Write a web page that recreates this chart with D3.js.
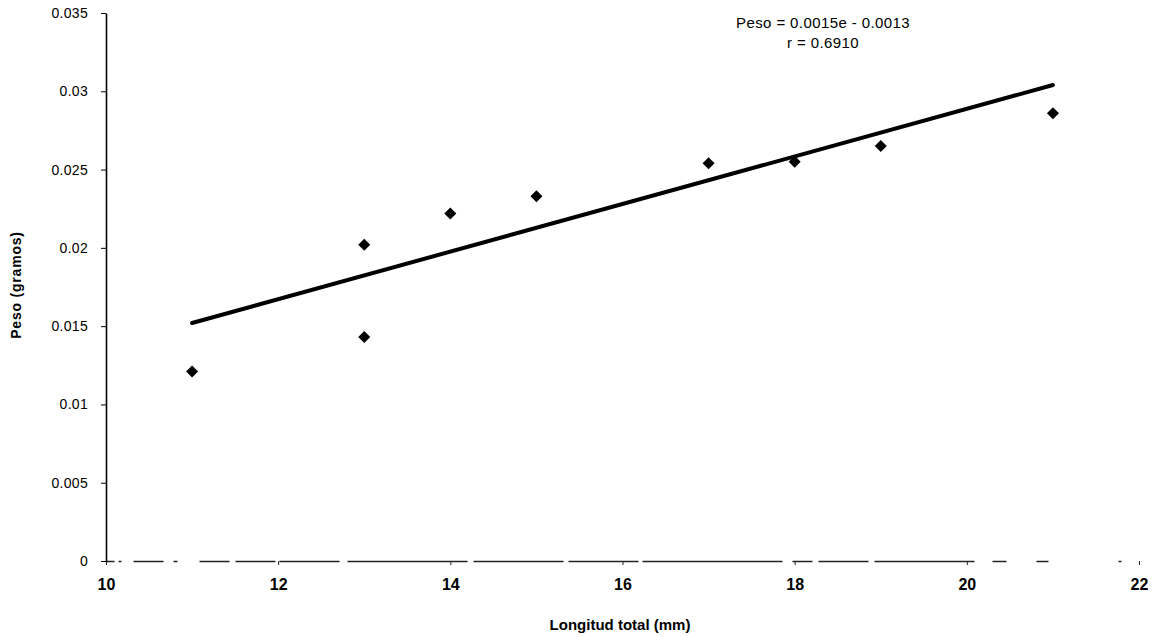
<!DOCTYPE html>
<html>
<head>
<meta charset="utf-8">
<script src="https://cdn.jsdelivr.net/npm/d3@7"></script>
<style>
  body { margin: 0; background: #fff; }
  svg { display: block; font-family: "Liberation Sans", Arial, sans-serif; }
</style>
</head>
<body>
<div id="chart"></div>
<script>
// longitud total (mm) vs peso (gramos)
const longitud = [11, 13, 13, 14, 15, 17, 18, 19, 21]
const peso = [0.0121, 0.0202, 0.0143, 0.0222, 0.0233, 0.0254, 0.0255, 0.0265, 0.0286]

// trend line ends
const trendX = [11, 21]
const trendY = [0.0152, 0.0304]

const xTicks = [10, 12, 14, 16, 18, 20, 22]
const yTicks = [0, 0.005, 0.01, 0.015, 0.02, 0.025, 0.03, 0.035]

const eqLines = ['Peso = 0.0015e - 0.0013', 'r = 0.6910']

function draw_chart() {
    const width = 1154, height = 637

    const svg = d3.select('#chart').append('svg')
        .attr('width', width)
        .attr('height', height)

    const x = d3.scaleLinear().domain([10, 22]).range([106, 1139])
    const y = d3.scaleLinear().domain([0, 0.035]).range([561, 13])

    // x axis (the scanned baseline is broken up, so dash it)
    const xAxis = svg.append('g')
        .attr('transform', `translate(0,${y(0)})`)
        .call(d3.axisBottom(x).tickValues(xTicks).tickSize(4).tickSizeOuter(0).tickPadding(14))
    xAxis.select('.domain')
        .attr('stroke', '#222')
        .attr('stroke-width', 1.3)
        .attr('stroke-dasharray', '8,4,3,12,30,10,4,22,30,6,40,4,60,8,120,6,90,5,70,4,140,10,20,6,50,6,100,18,14,30,12,70,3,200')
    xAxis.selectAll('.tick line').attr('stroke', '#222')
    xAxis.selectAll('.tick text')
        .attr('font-size', 16)
        .attr('font-weight', 'bold')
        .attr('fill', '#000')

    // y axis
    const yAxis = svg.append('g')
        .attr('transform', `translate(${x(10)},0)`)
        .call(d3.axisLeft(y).tickValues(yTicks).tickFormat(d => String(d)).tickSize(5).tickSizeOuter(0).tickPadding(13))
    yAxis.select('.domain').attr('stroke', '#000').attr('stroke-width', 1.6)
    yAxis.selectAll('.tick line').attr('stroke', '#000')
    yAxis.selectAll('.tick text')
        .attr('font-size', 14)
        .attr('fill', '#000')
        .attr('letter-spacing', 0.3)

    // axis titles
    svg.append('text')
        .attr('x', 620).attr('y', 630)
        .attr('text-anchor', 'middle')
        .attr('font-size', 15)
        .attr('font-weight', 'bold')
        .text('Longitud total (mm)')

    svg.append('text')
        .attr('transform', 'translate(21,285) rotate(-90)')
        .attr('text-anchor', 'middle')
        .attr('font-size', 14)
        .attr('font-weight', 'bold')
        .attr('letter-spacing', 0.8)
        .text('Peso (gramos)')

    // trend line
    const trend = trendX.map((d, i) => [d, trendY[i]])
    svg.append('path')
        .datum(trend)
        .attr('d', d3.line().x(d => x(d[0])).y(d => y(d[1])))
        .attr('stroke', '#000')
        .attr('stroke-width', 4)
        .attr('stroke-linecap', 'round')
        .attr('fill', 'none')

    // diamond markers
    const pts = longitud.map((d, i) => ({lx: d, p: peso[i]}))
    svg.selectAll('path.pt').data(pts).join('path')
        .attr('class', 'pt')
        .attr('d', d3.symbol(d3.symbolSquare, 72))
        .attr('transform', d => `translate(${x(d.lx)},${y(d.p)}) rotate(45)`)
        .attr('fill', '#000')

    // equation
    svg.selectAll('text.eq').data(eqLines).join('text')
        .attr('class', 'eq')
        .attr('x', 823)
        .attr('y', (d, i) => 28 + i * 20)
        .attr('text-anchor', 'middle')
        .attr('font-size', 15)
        .attr('letter-spacing', 0.4)
        .text(d => d)
}

draw_chart()
</script>
</body>
</html>
